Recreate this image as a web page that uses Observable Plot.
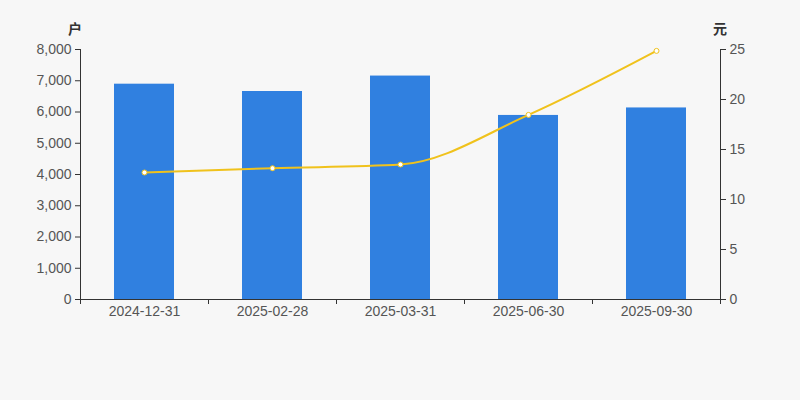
<!DOCTYPE html>
<html><head><meta charset="utf-8">
<script src="https://cdn.jsdelivr.net/npm/d3@7"></script>
<script src="https://cdn.jsdelivr.net/npm/@observablehq/plot@0.6"></script>
<style>
html,body{margin:0;padding:0;background:#f7f7f7;}
#chart{position:relative;width:800px;height:400px;}
.unit{position:absolute;top:18px;font:bold 14px "Liberation Sans","Noto Sans CJK SC",sans-serif;color:#333;}
</style></head>
<body><div id="chart"><span class="unit" style="left:68px">户</span><span class="unit" style="left:713px">元</span></div>
<script>
const categories = ["2024-12-31","2025-02-28","2025-03-31","2025-06-30","2025-09-30"];
const holders = [6890, 6656, 7150, 5890, 6130];
const prices = [12.7, 13.13, 13.5, 18.46, 24.86];
const leftTicks = [0,1000,2000,3000,4000,5000,6000,7000,8000];
const rightTicks = [0,5,10,15,20,25];
const leftMax = 8000, rightMax = 25;
const k = leftMax / rightMax;

const barData = categories.map((c,i)=>({date:c, v:holders[i]}));
const lineData = categories.map((c,i)=>({date:c, p:prices[i], y:prices[i]*k}));

const font = '"Liberation Sans","Noto Sans CJK SC",sans-serif';
const plot = Plot.plot({
  width: 800, height: 400,
  marginLeft: 80, marginRight: 80, marginTop: 49, marginBottom: 101,
  style: {background: "transparent", fontFamily: font, fontSize: "14px", color: "#555"},
  x: {domain: categories, paddingInner: 0.53, paddingOuter: 0.265},
  y: {domain: [0, leftMax]},
  marks: [
    Plot.barY(barData, {x: "date", y: "v", fill: "#3080e0"}),
    Plot.axisY({anchor: "left", ticks: leftTicks, tickSize: 5, tickPadding: 4, label: null, tickFormat: d3.format(","), stroke: "#333", fill: "#555"}),
    Plot.axisY({anchor: "right", ticks: rightTicks.map(t=>t*k), tickSize: 5, tickPadding: 4, label: null, tickFormat: d => String(Math.round(d/k)), stroke: "#333", fill: "#555"}),
    Plot.axisX({tickSize: 0, tickPadding: 7, label: null, fill: "#555"}),
    Plot.ruleY([0], {stroke: "#333"}),
    Plot.line(lineData, {x: "date", y: "y", stroke: "#f0c21c", strokeWidth: 2, curve: "monotone-x"}),
    Plot.dot(lineData, {x: "date", y: "y", r: 2.5, fill: "#fff", stroke: "#f0c21c", strokeWidth: 1})
  ]
});
document.getElementById("chart").appendChild(plot);
const svg = d3.select(plot);
const xs = plot.scale("x"), ys = plot.scale("y");
const bw = xs.step;
const y0 = ys.apply(0), yTop = ys.apply(leftMax);
const bounds = categories.map(c => xs.apply(c) - (xs.step - xs.bandwidth)/2);
bounds.push(bounds[bounds.length-1] + bw);
const g = svg.append("g").attr("stroke", "#333").attr("shape-rendering","crispEdges");
bounds.forEach(b => g.append("line").attr("x1", b).attr("x2", b).attr("y1", y0).attr("y2", y0 + 5));
g.append("line").attr("x1", bounds[0]).attr("x2", bounds[0]).attr("y1", yTop).attr("y2", y0);
g.append("line").attr("x1", bounds[bounds.length-1]).attr("x2", bounds[bounds.length-1]).attr("y1", yTop).attr("y2", y0);
</script></body></html>
